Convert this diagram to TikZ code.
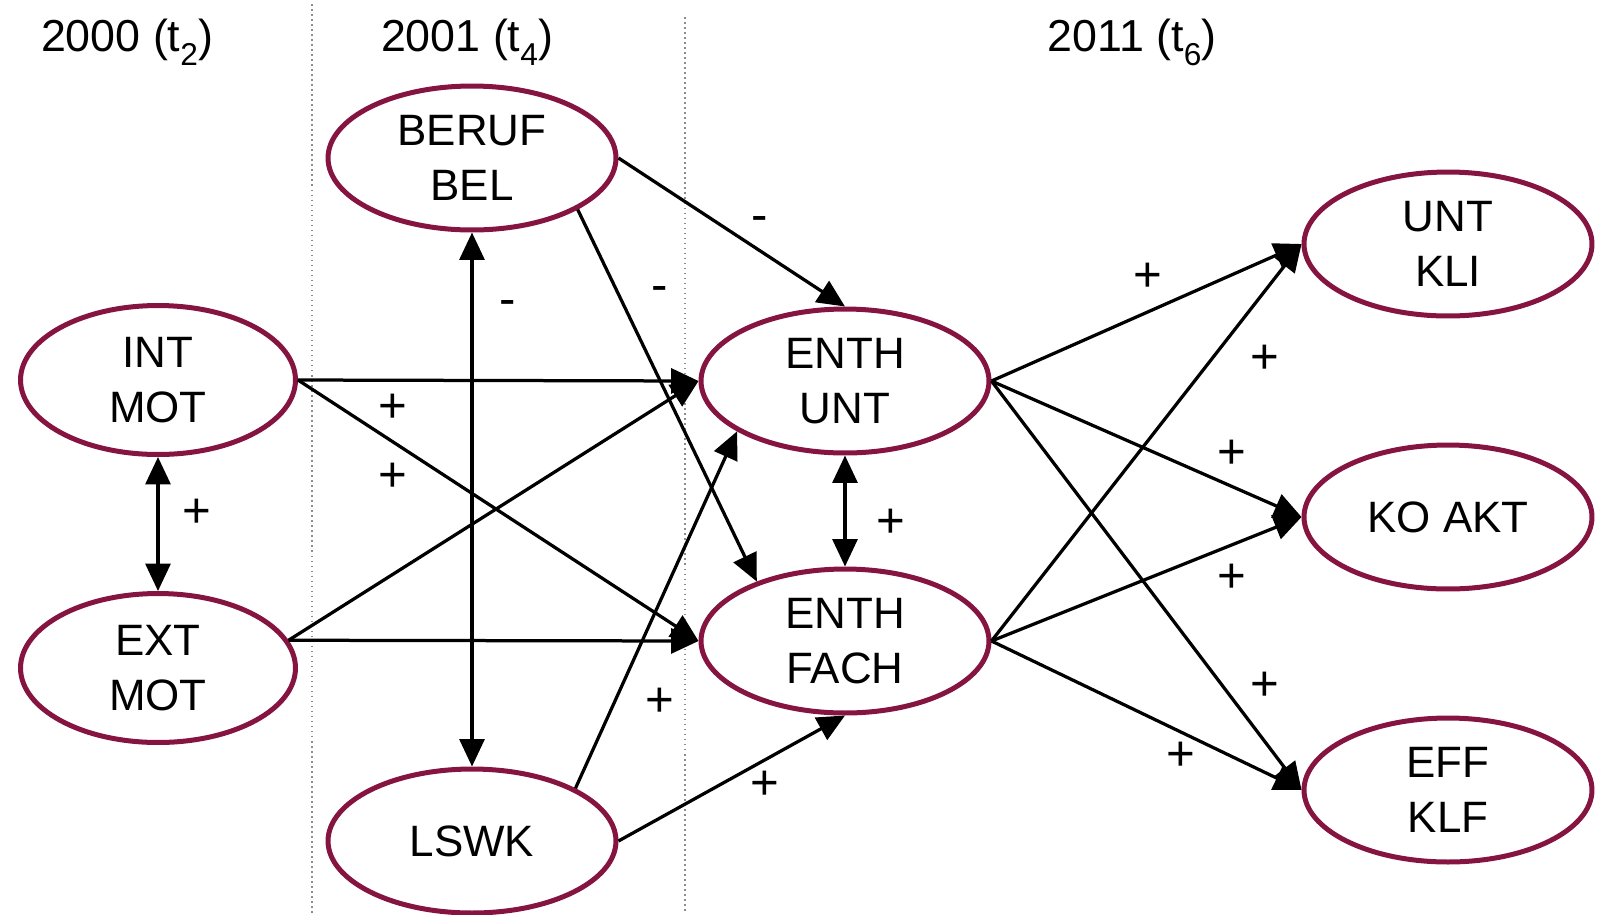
\documentclass[tikz,border=0pt]{standalone}
\usepackage{fontspec}
\setmainfont{Liberation Sans}
\usepackage{xcolor}
\usepackage{tikz}
\usetikzlibrary{arrows.meta,shapes.geometric}
\definecolor{bordeaux}{RGB}{134,20,64}
\newcommand{\tsub}[1]{\raisebox{-0.32em}{\fontsize{18}{18}\selectfont #1}}
\tikzstyle{latent}=[fill=white, draw=bordeaux, line width=0.1cm, shape=ellipse, minimum width=5.76cm, minimum height=2.88cm, inner sep=0pt, align=center, font=\fontsize{25}{31}\selectfont]
\tikzstyle{motive}=[latent, minimum width=5.5cm, minimum height=2.98cm]
\tikzstyle{year}=[anchor=base, inner sep=0pt, font=\fontsize{25.5}{30}\selectfont]
\tikzstyle{sign}=[inner sep=0pt, text height=0.66em, text depth=0pt, font=\fontsize{28}{30}\selectfont]
\tikzstyle{effect}=[-{Triangle[length=0.55cm, width=0.5cm]}, line width=0.065cm, draw=black]
\tikzstyle{corr}=[{Triangle[length=0.55cm, width=0.5cm]}-{Triangle[length=0.55cm, width=0.5cm]}, line width=0.065cm, draw=black]
\tikzstyle{divider}=[draw=black!45, dotted, line width=0.03cm]
\pgfdeclarelayer{nodelayer}
\pgfdeclarelayer{edgelayer}
\pgfsetlayers{nodelayer,edgelayer,main}

\begin{document}
\begin{tikzpicture}[x=0.02cm, y=-0.02cm]
	\useasboundingbox (0, 0) rectangle (1599, 914);
	\begin{pgfonlayer}{nodelayer}
		\draw [style=divider] (312, 4) -- (312, 914);
		\draw [style=divider] (685, 17) -- (685, 914);
		\node [style=year] (h1) at (127, 51) {2000 (t\tsub{2})};
		\node [style=year] (h2) at (467, 51) {2001 (t\tsub{4})};
		\node [style=year] (h3) at (1132, 51) {2011 (t\tsub{6})};
		\node [style=motive] (intmot) at (158, 380) {INT\\MOT};
		\node [style=motive] (extmot) at (158, 668) {EXT\\MOT};
		\node [style=latent] (beruf) at (472, 158) {BERUF\\BEL};
		\node [style=latent] (lswk) at (472, 841) {LSWK};
		\node [style=latent] (eunt) at (845, 381) {ENTH\\UNT};
		\node [style=latent] (efach) at (845, 641) {ENTH\\FACH};
		\node [style=latent] (kli) at (1448, 244) {UNT\\KLI};
		\node [style=latent] (koakt) at (1448, 517) {KO AKT};
		\node [style=latent] (klf) at (1448, 790) {EFF\\KLF};
		% signs
		\node [style=sign] (s1) at (197, 522) {+};
		\node [style=sign] (s2) at (393, 417) {+};
		\node [style=sign] (s3) at (393, 486) {+};
		\node [style=sign] (s4) at (508, 310) {-};
		\node [style=sign] (s5) at (760, 226) {-};
		\node [style=sign] (s6) at (660, 296) {-};
		\node [style=sign] (s7) at (660, 711) {+};
		\node [style=sign] (s8) at (765, 794) {+};
		\node [style=sign] (s9) at (891, 532) {+};
		\node [style=sign] (s10) at (1148, 286) {+};
		\node [style=sign] (s11) at (1265, 368) {+};
		\node [style=sign] (s12) at (1232, 463) {+};
		\node [style=sign] (s13) at (1232, 587) {+};
		\node [style=sign] (s14) at (1265, 695) {+};
		\node [style=sign] (s15) at (1181, 765) {+};
	\end{pgfonlayer}
	\begin{pgfonlayer}{edgelayer}
		\draw [style=corr] (intmot.south) to (extmot.north);
		\draw [style=effect] (intmot.east) to (eunt.west);
		\draw [style=effect] (intmot.east) to (efach.west);
		\draw [style=effect] (extmot.12) to (eunt.west);
		\draw [style=effect] (extmot.12) to (efach.west);
		\draw [style=corr] (beruf.south) to (lswk.north);
		\draw [style=effect] (beruf.east) to (eunt.north);
		\draw [style=effect] (beruf.-26) to (efach.146);
		\draw [style=effect] (lswk.27) to (eunt.205);
		\draw [style=effect] (lswk.east) to (efach.south);
		\draw [style=corr] (eunt.south) to (efach.north);
		\draw [style=effect] (eunt.east) to (kli.west);
		\draw [style=effect] (eunt.east) to (koakt.west);
		\draw [style=effect] (eunt.east) to (klf.west);
		\draw [style=effect] (efach.east) to (kli.west);
		\draw [style=effect] (efach.east) to (koakt.west);
		\draw [style=effect] (efach.east) to (klf.west);
	\end{pgfonlayer}
\end{tikzpicture}
\end{document}
